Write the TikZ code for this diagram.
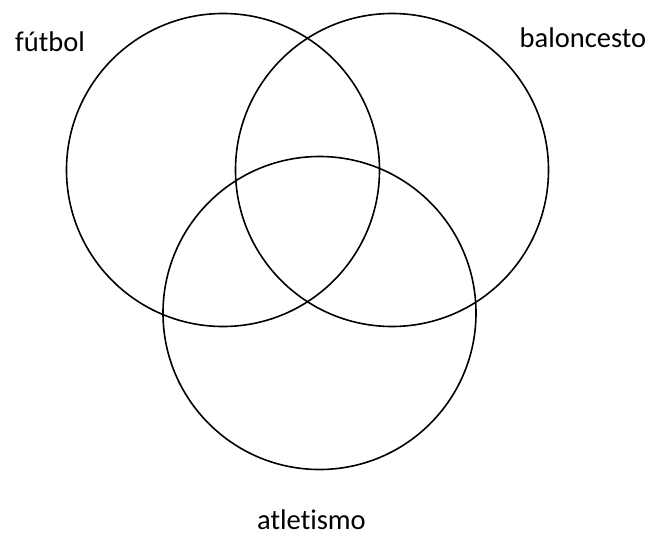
\documentclass[tikz,border=0pt]{standalone}
\usepackage{fontspec}
\setmainfont[Ligatures=NoCommon]{Carlito}
\usepackage{tikz}
\tikzset{
  every picture/.style={line join=round, line cap=round},
  ring/.style={line width=1.6pt},
  setlabel/.style={font=\fontsize{28.5}{34}\selectfont, inner sep=0pt, anchor=base},
}

\begin{document}
\begin{tikzpicture}[x=1pt,y=-1pt]
\useasboundingbox (0,0) rectangle (653,535);
\coordinate (cf) at (223.0,170.0);
\coordinate (cb) at (392.0,170.0);
\coordinate (ca) at (319.5,313.0);
\draw[ring] (cf) circle[radius=156.5];
\draw[ring] (cb) circle[radius=156.5];
\draw[ring] (ca) circle[radius=156.5];
\node[setlabel] (futbol) at (50.0,52.0) {fútbol};
\node[setlabel] (baloncesto) at (583.0,48.0) {baloncesto};
\node[setlabel] (atletismo) at (311.5,529.0) {atletismo};
\end{tikzpicture}
\end{document}
